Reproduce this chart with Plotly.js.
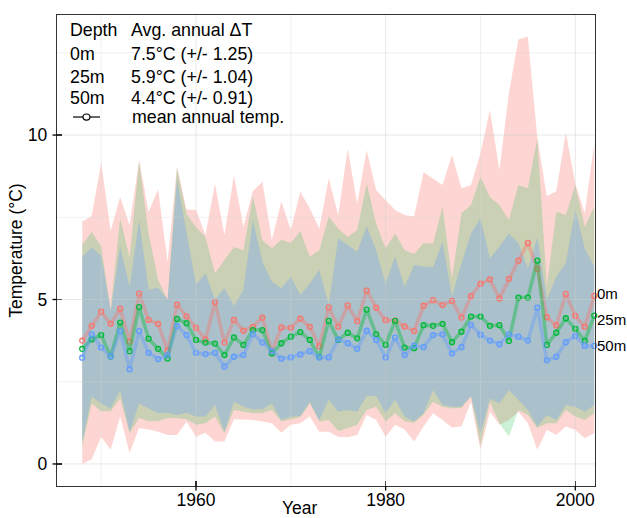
<!DOCTYPE html>
<html>
<head>
<meta charset="utf-8">
<script src="https://cdn.plot.ly/plotly-3.0.1.min.js"></script>
<style>html,body{margin:0;padding:0;background:#fff;}#chart{width:627px;height:518px;}</style>
</head>
<body>
<div id="chart"></div>
<script>
const years = [1948,1949,1950,1951,1952,1953,1954,1955,1956,1957,1958,1959,1960,1961,1962,1963,1964,1965,1966,1967,1968,1969,1970,1971,1972,1973,1974,1975,1976,1977,1978,1979,1980,1981,1982,1983,1984,1985,1986,1987,1988,1989,1990,1991,1992,1993,1994,1995,1996,1997,1998,1999,2000,2001,2002];

const mean0  = [3.75,4.20,4.63,4.26,4.72,3.72,5.18,4.38,4.26,3.45,4.84,4.49,4.14,3.79,4.92,3.69,4.38,4.05,4.17,4.45,3.43,4.15,4.14,4.42,4.17,3.58,4.76,4.17,4.82,4.34,5.27,4.75,4.37,4.36,4.18,4.04,4.81,4.98,4.83,4.96,4.45,5.10,5.48,5.61,5.03,5.63,6.18,6.72,5.93,4.46,4.21,5.17,4.50,4.17,5.11];
const mean25 = [3.50,3.79,3.92,3.27,4.30,3.43,4.77,3.81,3.50,3.21,4.41,4.28,3.77,3.69,3.66,3.31,3.85,3.62,4.07,4.07,3.36,3.67,3.87,4.01,3.77,3.25,4.35,3.77,3.99,3.82,4.69,3.94,3.62,4.35,3.54,3.52,4.22,4.20,4.26,3.70,4.02,4.48,4.48,4.20,4.22,3.74,5.06,5.06,6.18,3.62,3.99,4.43,4.11,3.74,4.51];
const mean50 = [3.23,3.94,3.54,3.27,4.04,2.88,4.04,3.38,3.19,3.31,4.20,3.92,3.38,3.34,3.38,2.96,3.26,3.31,3.95,3.69,3.43,3.20,3.24,3.33,3.43,3.24,3.24,3.79,3.67,3.50,4.05,3.77,3.24,3.84,3.31,3.60,3.55,3.92,3.94,3.36,3.55,4.23,3.93,3.75,3.64,3.94,3.87,3.75,4.75,3.15,3.26,3.70,3.89,3.59,3.59];

const max0  = [7.37,7.54,9.17,7.08,8.12,7.26,9.24,7.67,8.35,6.15,9.04,7.74,7.72,6.96,8.53,6.96,8.78,7.21,8.30,8.58,6.81,7.97,7.11,8.28,7.77,7.16,8.68,7.57,9.59,7.92,9.54,8.33,8.02,7.72,7.57,7.52,8.87,8.68,8.48,9.39,8.38,8.48,9.44,10.76,8.94,11.27,12.91,12.99,9.91,8.14,8.29,10.07,8.53,7.62,9.75];
const min0  = [0.00,0.14,0.83,0.43,1.44,0.33,1.09,1.05,0.98,0.88,0.88,1.29,0.83,0.95,0.68,0.68,1.36,1.36,1.34,1.29,1.24,0.95,1.19,1.24,1.44,0.98,0.98,0.83,0.81,0.88,1.49,1.34,0.83,1.19,1.05,0.68,1.14,1.54,1.34,1.11,1.15,1.89,0.43,1.59,1.19,1.34,1.59,1.24,0.43,1.04,0.88,1.14,1.04,0.78,0.93];
const max25 = [6.66,7.06,6.61,4.70,7.47,6.28,9.20,7.00,5.60,5.00,9.00,7.60,7.20,6.90,5.80,6.20,6.60,6.50,8.15,6.80,6.56,6.82,6.72,7.08,6.30,6.50,7.52,7.15,6.90,7.11,8.53,7.30,6.56,7.01,6.50,6.38,6.72,6.70,7.83,5.64,7.62,7.87,8.73,8.12,7.87,7.42,8.48,8.38,9.90,5.40,7.67,7.57,8.48,7.21,7.82];
const min25 = [0.53,1.84,1.60,1.60,1.99,0.93,1.40,1.30,1.30,1.40,1.39,1.36,1.19,1.24,1.44,0.93,1.64,1.59,1.54,1.54,1.64,1.29,1.36,1.42,1.84,1.29,1.34,1.00,1.09,1.19,1.64,1.74,1.29,1.54,1.29,1.25,1.50,1.89,1.74,1.69,1.71,2.05,0.58,1.89,1.24,0.83,1.64,1.49,1.09,1.24,1.24,1.64,1.44,1.34,1.54];
const max50 = [6.30,6.59,6.32,4.65,6.61,5.39,7.42,5.30,5.36,5.00,8.63,7.00,5.45,5.80,5.00,5.35,4.80,5.30,7.42,6.15,5.54,5.34,5.69,5.14,5.49,5.90,4.85,6.86,6.66,6.45,7.23,6.50,5.49,6.30,5.39,6.05,6.00,5.98,6.74,5.09,6.10,7.01,7.47,6.25,6.61,7.01,6.71,5.95,6.89,5.00,5.69,6.10,7.72,6.56,6.00];
const min50 = [0.68,2.05,1.84,1.69,2.25,0.98,1.84,1.69,1.54,1.56,1.49,1.56,1.44,1.44,1.79,0.98,1.89,1.74,1.66,1.66,1.84,1.34,1.44,1.46,1.89,1.34,1.95,1.59,1.64,1.59,2.07,2.07,1.54,1.95,1.44,1.29,1.54,2.25,1.79,1.74,1.74,2.07,0.93,1.99,1.84,2.25,1.95,1.64,1.14,1.49,1.34,1.79,1.74,1.59,1.79];

const depthLabels = ['0m','25m','50m'];
const avgText = ['7.5°C (+/- 1.25)','5.9°C (+/- 1.04)','4.4°C (+/- 0.91)'];
const yTicks = [0,5,10];
const yMinor = [2.5,7.5,12.5];
const xTicks = [1960,1980,2000];
const xMinor = [1950,1970,1990];

const cols = ['248,118,109','0,186,56','97,156,255'];
const fillAlpha = [0.3,0.2,0.3];
const mins = [min0,min25,min50];
const maxs = [max0,max25,max50];
const means = [mean0,mean25,mean50];

const FONT = 'Liberation Sans, Arial, Helvetica, sans-serif';
const traces = [];
for (let i=0;i<3;i++){
  traces.push({x:years,y:mins[i],type:'scatter',mode:'lines',line:{width:0,color:'rgba(0,0,0,0)'},hoverinfo:'skip',showlegend:false});
  traces.push({x:years,y:maxs[i],type:'scatter',mode:'lines',fill:'tonexty',fillcolor:'rgba('+cols[i]+','+fillAlpha[i]+')',line:{width:0,color:'rgba(0,0,0,0)'},hoverinfo:'skip',showlegend:false});
}
for (let i=0;i<3;i++){
  traces.push({x:years,y:means[i],type:'scatter',mode:'lines+markers',cliponaxis:false,
    line:{width:3.5,color:'rgba('+cols[i]+',0.4)'},
    marker:{symbol:'circle-open',size:5,color:'rgb('+cols[i]+')',line:{width:1.3,color:'rgb('+cols[i]+')'}},
    showlegend:false});
}

const shapes = [];
const gridMajor = 'rgba(205,205,205,0.45)';
const gridMinor = 'rgba(215,215,215,0.35)';
xTicks.forEach(v=>shapes.push({type:'line',xref:'x',yref:'paper',x0:v,x1:v,y0:0,y1:1,layer:'above',line:{color:gridMajor,width:1}}));
xMinor.forEach(v=>shapes.push({type:'line',xref:'x',yref:'paper',x0:v,x1:v,y0:0,y1:1,layer:'above',line:{color:gridMinor,width:1}}));
yTicks.forEach(v=>shapes.push({type:'line',xref:'paper',yref:'y',x0:0,x1:1,y0:v,y1:v,layer:'above',line:{color:gridMajor,width:1}}));
yMinor.forEach(v=>shapes.push({type:'line',xref:'paper',yref:'y',x0:0,x1:1,y0:v,y1:v,layer:'above',line:{color:gridMinor,width:1}}));
// outer halves of the crossing tick marks
xTicks.forEach(v=>shapes.push({type:'line',xref:'x',yref:'paper',x0:v,x1:v,y0:0,y1:-4.5/471,layer:'above',line:{color:'#000',width:1.3}}));
yTicks.forEach(v=>shapes.push({type:'line',xref:'paper',yref:'y',x0:0,x1:-4.5/538,y0:v,y1:v,layer:'above',line:{color:'#000',width:1.3}}));
// legend key symbol
shapes.push({type:'line',xref:'paper',yref:'paper',x0:0.0297,x1:0.0799,y0:0.7834,y1:0.7834,line:{color:'#000',width:1.2}});
shapes.push({type:'circle',xref:'paper',yref:'paper',x0:0.0483,x1:0.0613,y0:0.7770,y1:0.7898,fillcolor:'#fff',line:{color:'#000',width:1.2}});

const annotations = [];
const fs = 17.5;
const lfs = 17.8;
const rowY = [0.917,0.868,0.824];
const c1 = 0.0255-0.0056, c2 = 0.1388-0.0056;
annotations.push({xref:'paper',yref:'paper',x:c1,y:0.968,xanchor:'left',yanchor:'middle',text:'Depth',showarrow:false,font:{family:FONT,size:lfs,color:'#000'}});
annotations.push({xref:'paper',yref:'paper',x:c2,y:0.968,xanchor:'left',yanchor:'middle',text:'Avg. annual ΔT',showarrow:false,font:{family:FONT,size:lfs,color:'#000'}});
for (let i=0;i<3;i++){
  annotations.push({xref:'paper',yref:'paper',x:c1,y:rowY[i],xanchor:'left',yanchor:'middle',text:depthLabels[i],showarrow:false,font:{family:FONT,size:lfs,color:'#000'}});
  annotations.push({xref:'paper',yref:'paper',x:c2,y:rowY[i],xanchor:'left',yanchor:'middle',text:avgText[i],showarrow:false,font:{family:FONT,size:lfs,color:'#000'}});
}
annotations.push({xref:'paper',yref:'paper',x:c2+0.0018,y:0.7834,xanchor:'left',yanchor:'middle',text:'mean annual temp.',showarrow:false,font:{family:FONT,size:lfs,color:'#000'}});
const yshifts = [2,-4,0];
for (let i=0;i<3;i++){
  const n = years.length-1;
  annotations.push({xref:'x',yref:'y',x:years[n],y:means[i][n],xanchor:'left',yanchor:'middle',xshift:1,yshift:yshifts[i],text:depthLabels[i],showarrow:false,font:{family:FONT,size:15,color:'#000'}});
}
// x-axis title
annotations.push({xref:'paper',yref:'paper',x:0.4517,y:-0.0467,xanchor:'center',yanchor:'middle',borderpad:0,text:'Year',showarrow:false,font:{family:FONT,size:fs,color:'#000'}});

const layout = {
  width:627,height:518,
  margin:{l:57,r:32,t:15,b:32,pad:0},
  paper_bgcolor:'#fff',plot_bgcolor:'#fff',
  font:{family:FONT,size:fs,color:'#000'},
  showlegend:false,
  xaxis:{range:[1945.34,2002.08],tickvals:xTicks,ticktext:xTicks.map(String),showgrid:false,zeroline:false,
    showline:true,mirror:true,linecolor:'#333',linewidth:1.3,ticks:'inside',ticklen:5,tickcolor:'#000',tickwidth:1.3,
    ticklabelstandoff:-2,
    tickfont:{family:FONT,size:fs,color:'#000'}},
  yaxis:{range:[-0.67,13.65],tickvals:yTicks,ticktext:yTicks.map(String),showgrid:false,zeroline:false,
    showline:true,mirror:true,linecolor:'#333',linewidth:1.3,ticks:'inside',ticklen:5,tickcolor:'#000',tickwidth:1.3,
    ticklabelstandoff:5,
    tickfont:{family:FONT,size:fs,color:'#000'},title:{text:'Temperature (°C)',font:{family:FONT,size:fs,color:'#000'},standoff:0}},
  shapes:shapes,
  annotations:annotations
};
Plotly.newPlot('chart',traces,layout,{displayModeBar:false,staticPlot:true});
</script>
</body>
</html>
